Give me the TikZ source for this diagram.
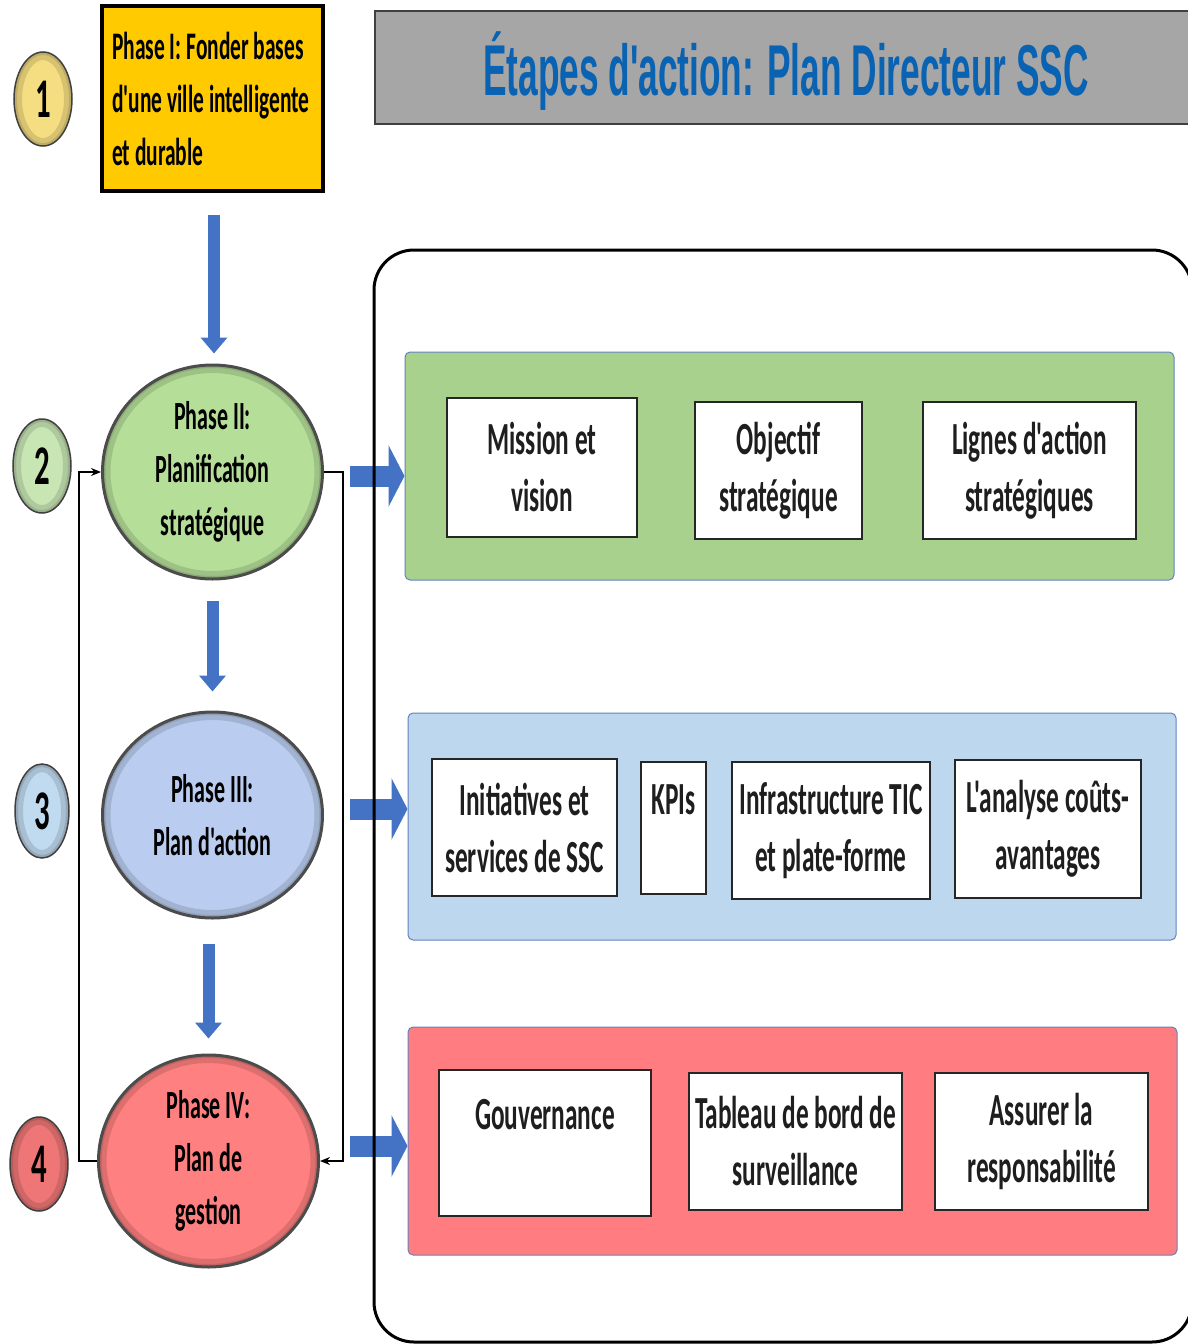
\documentclass[tikz,border=0pt]{standalone}
\usepackage{fontspec}
\newfontfamily\cb{Carlito}[FakeStretch=0.55]
\newfontfamily\tf{Liberation Sans}[FakeStretch=0.49]
\usetikzlibrary{shapes.geometric,arrows.meta,calc}
\definecolor{gold}{RGB}{255,202,0}
\definecolor{c1}{RGB}{245,222,130}
\definecolor{grn}{RGB}{181,222,152}
\definecolor{c2}{RGB}{200,230,180}
\definecolor{blu}{RGB}{186,205,240}
\definecolor{c3}{RGB}{192,218,240}
\definecolor{red}{RGB}{255,128,128}
\definecolor{c4}{RGB}{238,118,118}
\definecolor{pgrn}{RGB}{169,209,142}
\definecolor{pblu}{RGB}{189,215,238}
\definecolor{pred}{RGB}{255,124,128}
\definecolor{pedge}{RGB}{100,130,190}
\definecolor{ablue}{RGB}{68,114,196}
\definecolor{ttl}{RGB}{10,98,178}
\definecolor{tgray}{RGB}{166,166,166}
\definecolor{txt}{RGB}{30,30,30}
\begin{document}
\begin{tikzpicture}[x=1pt,y=-1pt,
  rim/.style={path picture={
    \draw[#1!55!black, line width=16pt, opacity=.28]
      let \p1=(path picture bounding box.north east), \p2=(path picture bounding box.south west)
      in (path picture bounding box.center) ellipse [x radius={(\x1-\x2)/2}, y radius={(\y1-\y2)/2}];
    \draw[#1!55!black, line width=6pt, opacity=.3]
      let \p1=(path picture bounding box.north east), \p2=(path picture bounding box.south west)
      in (path picture bounding box.center) ellipse [x radius={(\x1-\x2)/2}, y radius={(\y1-\y2)/2}];
  }},
  numc/.style={ellipse, fill=#1, rim=#1, draw=black!75, line width=1.5pt, minimum width=58pt, minimum height=94pt, inner sep=0pt, text=black, font=\cb\bfseries\fontsize{56}{56}\selectfont},
  phase/.style={ellipse, fill=#1, rim=#1, draw=black!70, line width=3pt, minimum width=220pt, inner sep=0pt, align=center, text=black, font=\cb\bfseries\fontsize{40}{53}\selectfont},
  panel/.style={draw=pedge, line width=1pt, rounded corners=5pt, fill=#1, inner sep=0pt},
  item/.style={draw=black!85, line width=1.5pt, fill=white, align=center, inner sep=0pt, text=txt, font=\cb\bfseries\fontsize{46}{57}\selectfont},
  conn/.style={draw=black, line width=1.6pt, -{Stealth[length=10pt,width=8pt]}},
  vblock/.style={draw=ablue, line width=12pt, -{Triangle[length=16pt,width=26pt]}},
  hblock/.style={draw=ablue, line width=21pt, -{Triangle[length=16pt,width=61pt]}}
]
\useasboundingbox (0,0) rectangle (1188,1344);

% title
\node[draw=black!75, line width=1.5pt, fill=tgray, minimum width=830pt, minimum height=113pt, anchor=north west, inner sep=0pt] (tbox) at (374,10) {};
\node[anchor=base, text=ttl, font=\tf\bfseries\fontsize{72}{72}\selectfont, inner sep=0pt] (title) at (786,95) {Étapes d'action: Plan Directeur SSC};

% phase I
\node[draw=black, line width=3.5pt, fill=gold, minimum width=221pt, minimum height=185pt, inner sep=0pt] (p1) at (212.5,98.5) {};
\node[align=left, inner sep=0pt, anchor=north west, text=black, font=\cb\bfseries\fontsize{39}{53}\selectfont] (p1t) at (112,32) {Phase I: Fonder bases\\d'une ville intelligente\\et durable};

% number circles
\node[numc=c1] (n1) at (43,99) {1};
\node[numc=c2] (n2) at (42,466) {2};
\node[numc=c3, minimum width=54pt] (n3) at (42,811) {3};
\node[numc=c4] (n4) at (39,1164) {4};

% phase ellipses
\node[phase=grn, minimum height=214pt] (p2) at (212.5,472) {Phase II:\\Planification\\stratégique};
\node[phase=blu, minimum height=206pt] (p3) at (212.5,815) {Phase III:\\Plan d'action};
\node[phase=red, minimum height=212pt] (p4) at (208.5,1161) {Phase IV:\\Plan de\\gestion};

% vertical block arrows
\draw[vblock] ([xshift=1.5pt,yshift=-22pt]p1.south) -- ([xshift=1.5pt,yshift=10pt]p2.north);
\draw[vblock] ([yshift=-20pt]p2.south) -- ([yshift=19pt]p3.north);
\draw[vblock] ([yshift=-24pt]p4.north |- p3.south) -- ([yshift=15pt]p4.north);

% feedback connectors
\coordinate (rr) at (343,0);
\coordinate (ll) at (79,0);
\draw[conn] (p2.east) -- (p2.east -| rr) -- (p4.east -| rr) -- (p4.east);
\draw[conn] (p4.west) -- (p4.west -| ll) -- (p2.west -| ll) -- (p2.west);

% panels
\node[panel=pgrn, minimum width=769pt, minimum height=228pt] (gp) at (789.5,466) {};
\node[panel=pblu, minimum width=768pt, minimum height=227pt] (bp) at (792,826.5) {};
\node[panel=pred, minimum width=769pt, minimum height=228pt] (rp) at (792.5,1141) {};

% horizontal block arrows
\coordinate (b1) at (350,476);
\coordinate (b2) at (350,809);
\coordinate (b3) at (350,1146);
\draw[hblock] (b1) -- (b1 -| gp.west);
\draw[hblock] (b2) -- (b2 -| bp.west);
\draw[hblock] (b3) -- (b3 -| rp.west);

% big frame
\node[draw=black, line width=3pt, rounded corners=40pt, minimum width=818pt, minimum height=1092pt, inner sep=0pt] (frame) at (783,796) {};

% items green
\node[item, minimum width=190pt, minimum height=139pt] (i1) at (542,467.5) {Mission et\\vision};
\node[item, minimum width=167pt, minimum height=137pt] (i2) at (778.5,470.5) {Objectif\\stratégique};
\node[item, minimum width=213pt, minimum height=137pt] (i3) at (1029.5,470.5) {Lignes d'action\\stratégiques};
% items blue
\node[item, minimum width=185pt, minimum height=137pt] (j1) at (524.5,827.5) {Initiatives et\\services de SSC};
\node[item, minimum width=65pt, minimum height=132pt] (j2) at (673.5,828) {KPIs\\\mbox{}};
\node[item, minimum width=198pt, minimum height=137pt] (j3) at (831,830.5) {Infrastructure TIC\\et plate-forme};
\node[item, minimum width=186pt, minimum height=138pt] (j4) at (1048,829) {L'analyse coûts-\\avantages};
% items red
\node[item, minimum width=212pt, minimum height=146pt] (k1) at (545,1143) {Gouvernance\\\mbox{}};
\node[item, minimum width=213pt, minimum height=137pt] (k2) at (795.5,1141.5) {Tableau de bord de\\surveillance};
\node[item, minimum width=213pt, minimum height=137pt] (k3) at (1041.5,1141.5) {Assurer la\\responsabilité};
\end{tikzpicture}
\end{document}
